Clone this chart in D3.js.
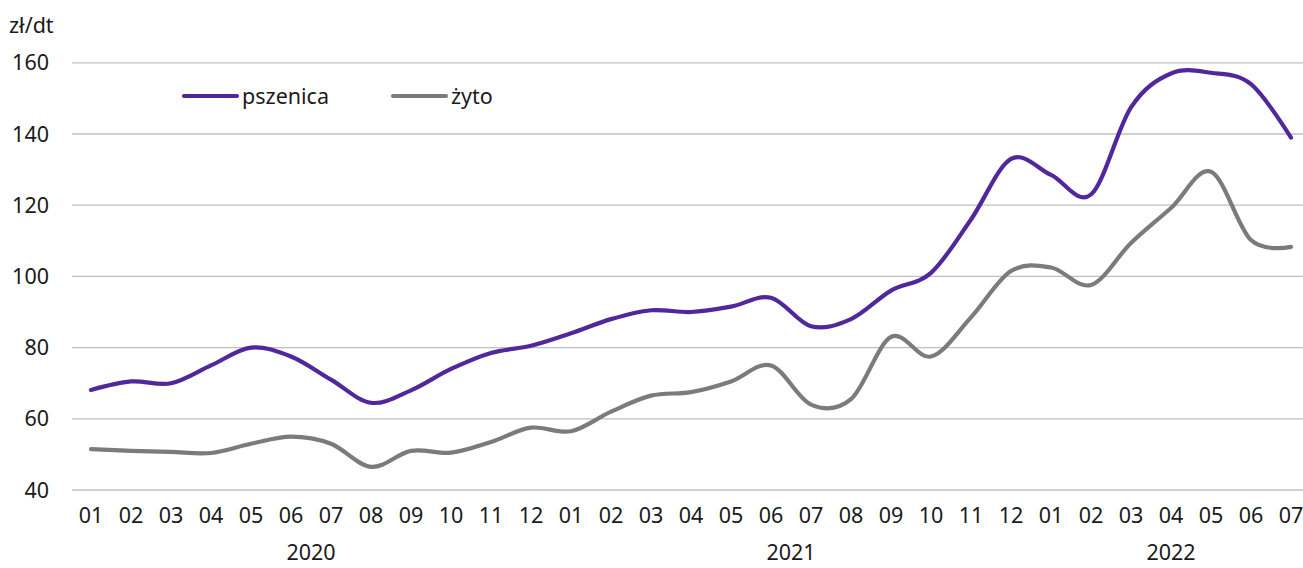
<!DOCTYPE html>
<html>
<head>
<meta charset="utf-8">
<script src="https://cdn.jsdelivr.net/npm/d3@7"></script>
<style>
  html, body { margin: 0; padding: 0; background: #fff; }
  svg text { font-family: "Noto Sans", "Open Sans", sans-serif; fill: #1a1a1a; }
</style>
</head>
<body>
<svg id="chart" width="1303" height="568"></svg>
<script>
/* ── price chart: pszenica / żyto, zł/dt ───────────────────────── */

const years   = ["2020", "2021", "2022"];
const months  = [
  "01","02","03","04","05","06","07","08","09","10","11","12",
  "01","02","03","04","05","06","07","08","09","10","11","12",
  "01","02","03","04","05","06","07"
];
const yearOf  = [
  0,0,0,0,0,0,0,0,0,0,0,0,
  1,1,1,1,1,1,1,1,1,1,1,1,
  2,2,2,2,2,2,2
];

const pszenica = [
  68.1, 70.5, 70.0, 75.0, 80.0, 77.5, 71.0, 64.5, 68.0, 74.0, 78.5, 80.5,
  84.0, 88.0, 90.5, 90.0, 91.5, 94.0, 86.0, 88.0, 96.0, 101.0, 116.0, 133.0,
  128.5, 123.0, 147.5, 157.0, 157.2, 154.0, 139.0
];
const zyto = [
  51.5, 51.0, 50.7, 50.4, 53.0, 55.0, 53.0, 46.5, 51.0, 50.5, 53.5, 57.5,
  56.5, 62.0, 66.5, 67.5, 70.5, 75.0, 64.0, 65.5, 83.0, 77.5, 88.5, 101.5,
  102.5, 97.6, 109.4, 119.2, 129.4, 110.2, 108.3
];

const yTicks = [40, 60, 80, 100, 120, 140, 160];

const series = [
  { name: "pszenica", values: pszenica, color: "#51289b" },
  { name: "żyto",     values: zyto,     color: "#7b7b7b" },
];

// ── Layout ────────────────────────────────────────────────────────
const svg = d3.select("#chart");
const gridX0 = 72, gridX1 = 1303;
const FS = 21.5;

const x = d3.scalePoint()
  .domain(d3.range(months.length))
  .range([91, 1291]);

const y = d3.scaleLinear()
  .domain([40, 160])
  .range([490, 62.8]);

// Gridlines
svg.append("g").attr("class", "grid")
  .selectAll("line")
  .data(yTicks)
  .join("line")
    .attr("x1", gridX0)
    .attr("x2", gridX1)
    .attr("y1", d => y(d))
    .attr("y2", d => y(d))
    .attr("stroke", "#bfbfbf")
    .attr("stroke-width", 1.3);

// Y axis labels
svg.append("g").attr("class", "y-labels")
  .selectAll("text")
  .data(yTicks)
  .join("text")
    .attr("x", 49)
    .attr("y", d => y(d))
    .attr("dy", "0.35em")
    .attr("text-anchor", "end")
    .attr("font-size", FS)
    .text(d => d);

svg.append("text")
  .attr("x", 9)
  .attr("y", 33)
  .attr("font-size", FS)
  .text("zł/dt");

// X axis labels (months)
svg.append("g").attr("class", "x-labels")
  .selectAll("text")
  .data(months)
  .join("text")
    .attr("x", (d, i) => x(i))
    .attr("y", 523)
    .attr("text-anchor", "middle")
    .attr("font-size", FS)
    .text(d => d);

// Year labels, centred under their months
svg.append("g").attr("class", "year-labels")
  .selectAll("text")
  .data(years)
  .join("text")
    .attr("x", (d, yi) => {
      const idx = d3.range(months.length).filter(i => yearOf[i] === yi);
      return (x(idx[0]) + x(idx[idx.length - 1])) / 2;
    })
    .attr("y", 560)
    .attr("text-anchor", "middle")
    .attr("font-size", FS)
    .text(d => d);

// Lines
const line = d3.line()
  .x((d, i) => x(i))
  .y(d => y(d))
  .curve(d3.curveCardinal.tension(0));

svg.append("g").attr("class", "lines")
  .selectAll("path")
  .data(series.slice().reverse())
  .join("path")
    .attr("d", d => line(d.values))
    .attr("fill", "none")
    .attr("stroke", d => d.color)
    .attr("stroke-width", 4.2)
    .attr("stroke-linecap", "round")
    .attr("stroke-linejoin", "round");

// Legend
const legendX = [184, 393];
const legend = svg.append("g").attr("class", "legend")
  .selectAll("g")
  .data(series)
  .join("g")
    .attr("transform", (d, i) => `translate(${legendX[i]},96)`);

legend.append("line")
  .attr("x1", 0).attr("x2", 53)
  .attr("stroke", d => d.color)
  .attr("stroke-width", 4.2)
  .attr("stroke-linecap", "round");

legend.append("text")
  .attr("x", 58)
  .attr("dy", "0.35em")
  .attr("font-size", FS)
  .text(d => d.name);
</script>
</body>
</html>
